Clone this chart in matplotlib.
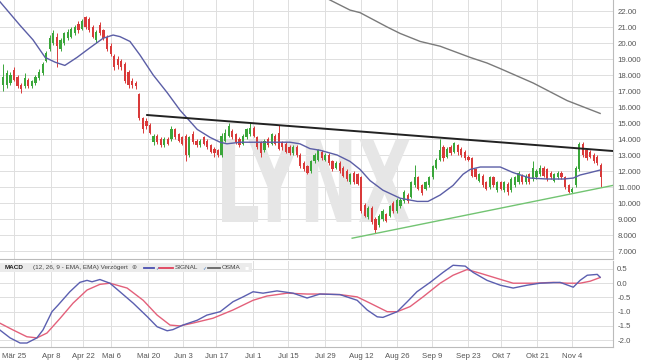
import numpy as np
import matplotlib
matplotlib.use("Agg")
import matplotlib.pyplot as plt
from matplotlib.textpath import TextPath
from matplotlib.patches import PathPatch, Rectangle
from matplotlib.font_manager import FontProperties
from matplotlib.transforms import Affine2D
from matplotlib.lines import Line2D

plt.rcParams['font.family'] = ['Liberation Sans', 'DejaVu Sans']

# ---------------- data ----------------
opens = [17.4, 17.4, 17.5, 18.3, 17.9, 17.4, 17.3, 17.7, 17.3, 17.5,
         17.8, 18.1, 18.9, 19.6, 20.0, 20.4, 19.6, 20.0, 20.3, 20.4,
         20.6, 21.2, 20.9, 21.6, 21.5, 21.0, 20.2, 21.1, 20.8, 20.4,
         19.8, 19.2, 19.0, 18.9, 18.7, 18.2, 17.6, 17.5, 16.8, 15.3,
         15.1, 14.9, 13.8, 14.2, 14.0, 13.6, 14.0, 14.0, 14.6, 14.3,
         14.1, 14.2, 13.0, 14.3, 13.9, 13.6, 14.1, 13.9, 13.6, 13.4,
         13.3, 13.0, 13.9, 14.2, 14.5, 14.3, 14.0, 13.7, 14.1, 14.3,
         14.7, 14.1, 13.8, 13.3, 14.0, 13.7, 14.2, 14.4, 13.8, 13.7,
         13.5, 13.1, 13.5, 13.0, 12.5, 12.3, 12.0, 12.6, 12.7, 13.2,
         12.7, 13.0, 12.6, 12.2, 12.5, 12.2, 12.0, 11.3, 11.9, 11.8,
         11.6, 9.9, 9.1, 9.7, 9.0, 8.6, 9.0, 9.3, 9.2, 10.0,
         9.5, 9.8, 10.1, 10.5, 10.4, 11.1, 11.6, 11.1, 10.9, 11.1,
         11.6, 12.2, 12.7, 13.5, 12.9, 13.5, 13.2, 13.6, 13.4, 13.2,
         12.9, 12.8, 12.1, 11.4, 11.7, 11.3, 11.0, 11.6, 10.8, 11.3,
         10.8, 11.2, 10.8, 11.1, 11.3, 11.7, 11.3, 11.8, 11.5, 11.6,
         11.8, 12.2, 12.1, 11.9, 11.4, 11.6, 11.9, 11.6, 11.1, 10.7,
         11.1, 12.1, 13.7, 13.3, 13.2, 13.0, 12.9, 12.4]
closes = [17.9, 18.1, 18.0, 17.7, 17.3, 17.1, 17.8, 17.3, 17.6, 17.9,
          18.2, 18.7, 19.4, 20.3, 20.6, 19.8, 20.2, 20.6, 20.7, 20.9,
          21.0, 20.8, 21.4, 21.0, 20.8, 20.4, 20.7, 20.6, 20.3, 19.6,
          19.3, 18.5, 18.6, 18.5, 17.6, 17.4, 17.4, 17.3, 15.3, 14.6,
          14.8, 14.4, 14.2, 13.8, 13.6, 14.0, 13.7, 14.6, 14.1, 13.9,
          13.7, 13.0, 14.1, 13.8, 13.6, 13.9, 13.7, 13.5, 13.2, 13.1,
          13.0, 14.2, 14.4, 14.8, 14.1, 13.8, 13.6, 14.2, 14.6, 14.7,
          14.2, 13.5, 13.1, 13.9, 13.6, 14.3, 13.7, 13.4, 13.5, 13.2,
          13.1, 13.5, 13.0, 12.3, 12.1, 11.9, 12.6, 13.0, 13.3, 12.8,
          13.0, 12.5, 12.1, 12.5, 12.0, 11.7, 11.5, 11.8, 11.3, 11.2,
          9.5, 9.2, 9.7, 8.8, 8.3, 9.2, 9.5, 8.9, 9.8, 9.5,
          10.2, 10.2, 10.7, 10.1, 11.3, 11.6, 10.9, 10.6, 11.3, 11.6,
          12.3, 12.7, 13.3, 12.8, 13.4, 13.1, 13.75, 13.2, 13.0, 12.8,
          12.7, 11.7, 11.6, 11.8, 11.1, 10.9, 11.6, 11.1, 11.3, 10.9,
          11.3, 10.7, 11.5, 11.6, 11.9, 11.3, 11.7, 11.3, 12.2, 12.0,
          12.2, 11.7, 11.5, 11.6, 11.8, 11.9, 11.6, 11.0, 10.7, 10.9,
          12.2, 13.7, 13.0, 12.8, 12.9, 12.6, 12.5, 11.6]
highs = [18.7, 18.3, 18.2, 18.5, 18.0, 17.5, 18.1, 17.8, 17.7, 18.0,
         18.4, 18.8, 19.5, 20.5, 20.8, 20.6, 20.3, 20.7, 20.9, 21.0,
         21.1, 21.4, 21.5, 21.7, 21.6, 21.1, 20.8, 21.3, 20.9, 20.5,
         20.0, 19.3, 19.2, 19.0, 18.8, 18.3, 17.8, 17.6, 16.9, 15.4,
         15.3, 15.0, 14.3, 14.3, 14.1, 14.1, 14.1, 14.8, 14.7, 14.4,
         14.2, 14.3, 14.2, 14.5, 14.0, 14.0, 14.2, 14.0, 13.7, 13.5,
         13.4, 14.4, 14.6, 15.0, 14.6, 14.4, 14.1, 14.3, 14.7, 15.0,
         14.8, 14.2, 13.9, 14.0, 14.1, 14.4, 14.3, 14.9, 13.9, 13.8,
         13.6, 13.6, 13.6, 13.1, 12.6, 12.4, 12.7, 13.1, 13.4, 13.3,
         13.1, 13.1, 12.7, 12.6, 12.6, 12.3, 12.1, 11.9, 12.0, 11.9,
         11.7, 10.0, 9.8, 9.8, 9.1, 9.3, 9.6, 9.4, 9.9, 10.1,
         10.3, 10.3, 10.8, 10.6, 11.4, 12.4, 11.7, 11.2, 11.4, 11.7,
         12.4, 12.8, 14.0, 13.6, 13.5, 13.6, 13.8, 13.7, 13.5, 13.3,
         13.0, 12.9, 12.2, 11.9, 11.8, 11.4, 11.7, 11.7, 11.4, 11.4,
         11.4, 11.3, 11.6, 11.7, 12.0, 11.8, 11.8, 11.9, 12.6, 12.1,
         12.4, 12.3, 12.2, 12.0, 11.9, 12.0, 12.0, 11.7, 11.2, 11.0,
         12.3, 13.8, 13.8, 13.4, 13.3, 13.1, 13.0, 12.5]
lows = [17.0, 17.2, 17.4, 17.6, 17.2, 16.9, 17.2, 17.2, 17.2, 17.4,
        17.7, 18.0, 18.8, 19.5, 19.9, 18.5, 19.5, 19.9, 20.2, 20.3,
        20.5, 20.6, 20.8, 20.9, 20.7, 20.3, 20.0, 20.5, 20.2, 19.5,
        19.2, 18.3, 18.4, 18.3, 17.5, 17.2, 17.2, 17.1, 15.2, 14.4,
        14.6, 14.3, 13.6, 13.7, 13.5, 13.5, 13.6, 13.9, 14.0, 13.8,
        13.6, 12.6, 12.9, 13.7, 13.5, 13.5, 13.6, 13.4, 13.1, 12.9,
        12.9, 12.9, 13.8, 14.1, 14.0, 13.7, 13.5, 13.6, 14.0, 14.2,
        14.1, 13.4, 12.9, 13.2, 13.5, 13.6, 13.6, 13.3, 13.3, 13.1,
        13.0, 13.0, 12.9, 12.2, 12.0, 11.8, 11.9, 12.5, 12.6, 12.7,
        12.6, 12.4, 12.0, 12.1, 11.9, 11.6, 11.4, 11.2, 11.2, 11.1,
        9.4, 9.1, 9.0, 8.7, 8.1, 8.5, 8.9, 8.8, 9.1, 9.4,
        9.4, 9.7, 10.0, 10.0, 10.3, 11.0, 10.8, 10.5, 10.8, 11.0,
        11.5, 12.1, 12.6, 12.6, 12.8, 13.0, 13.1, 13.0, 12.9, 12.7,
        12.6, 11.6, 11.5, 11.3, 11.0, 10.8, 10.9, 11.0, 10.7, 10.8,
        10.7, 10.5, 10.7, 11.0, 11.2, 11.2, 11.2, 11.2, 11.4, 11.5,
        11.7, 11.6, 11.4, 11.5, 11.3, 11.5, 11.5, 10.9, 10.6, 10.6,
        11.0, 12.0, 12.9, 12.7, 12.8, 12.5, 12.4, 11.0]

# moving average (blue) knots: trading-day index, price
ma_idx = [-1, 4.7, 8.3, 11.7, 14.5, 17.2, 20.6, 24.2, 27.9, 30.7, 32.6, 35.4,
          38.2, 41.9, 45.8, 49.4, 54.2, 57.8, 60.6, 62.5, 66.2, 80.1, 82.9,
          85.7, 88.5, 93.3, 96.9, 99.7, 102.5, 106.1, 110.9, 115.7, 118.7,
          122.1, 125.7, 128.5, 130.5, 133.3, 138.9, 142.5, 147.2, 152.0,
          156.5, 159.3, 161.2, 164.0, 166.8]
ma_val = [22.6, 21.1, 20.2, 19.1, 18.8, 18.6, 19.1, 19.7, 20.3, 20.5, 20.4, 20.1,
          19.25, 18.0, 16.9, 15.8, 14.6, 14.1, 13.8, 13.7, 13.8, 13.8, 13.7,
          13.4, 13.3, 13.0, 12.6, 12.1, 11.4, 10.8, 10.3, 10.1, 10.1,
          10.5, 11.1, 11.8, 12.1, 12.25, 12.25, 11.9, 11.56, 11.5,
          11.5, 11.56, 11.75, 11.9, 12.06]
# long moving average (grey) knots
ma200_idx = [89.5, 91.3, 96.9, 99.7, 107.3, 110.9, 116.5, 122.1, 130.5, 135.2,
             138.9, 148.1, 157.6, 166.8]
ma200_val = [22.9, 22.69, 22.06, 21.9, 21.0, 20.6, 20.1, 19.8, 19.1, 18.75,
             18.4, 17.5, 16.4, 15.6]
# trend lines
res_idx = [40.2, 170.4]
res_val = [15.5, 13.25]
sup_idx = [97.5, 170.4]
sup_val = [7.8, 11.1]

# MACD
macd_idx = [-1, 1.9, 4.7, 6.6, 9.4, 11.1, 13.6, 15.3, 18.6, 21.4, 23.4, 24.8,
            27.0, 29.8, 32.6, 36.3, 40.2, 43.0, 45.8, 47.4, 50.2, 54.2, 56.9,
            60.6, 64.2, 67.0, 69.8, 72.6, 76.5, 81.0, 84.9, 88.5, 94.1, 98.9,
            101.7, 104.5, 106.1, 110.1, 112.9, 115.6, 119.3, 122.9, 125.7,
            129.1, 131.3, 135.2, 138.9, 142.5, 146.4, 150.0, 155.6, 159.3,
            161.2, 163.2, 166.0, 166.8]
macd_val = [-1.64, -1.92, -2.1, -2.1, -1.92, -1.64, -1.0, -0.77, -0.3, 0.03, 0.1,
            0.05, 0.13, 0.0, -0.3, -0.7, -1.17, -1.53, -1.67, -1.63, -1.47, -1.3,
            -1.12, -1.0, -0.65, -0.48, -0.3, -0.35, -0.27, -0.35, -0.52, -0.38,
            -0.4, -0.6, -0.94, -1.18, -1.2, -1.0, -0.65, -0.3, 0.03, 0.38, 0.63,
            0.6, 0.38, 0.1, -0.07, -0.17, -0.07, 0.0, 0.03, -0.14, 0.1, 0.28,
            0.31, 0.21]
sig_idx = [-1, 2.7, 6.6, 9.4, 12.2, 15.9, 19.5, 23.4, 27.0, 29.8, 34.6, 39.1,
           43.0, 46.6, 49.4, 53.0, 58.6, 64.2, 69.8, 73.7, 79.3, 84.9, 88.5,
           94.1, 98.9, 102.5, 107.3, 110.1, 113.7, 117.3, 122.1, 125.7, 129.6,
           133.3, 138.0, 142.5, 148.1, 153.7, 157.6, 161.2, 164.0, 166.8]
sig_val = [-1.4, -1.64, -1.88, -1.92, -1.75, -1.23, -0.7, -0.24, -0.04, 0.0,
           -0.17, -0.6, -1.12, -1.47, -1.5, -1.4, -1.23, -0.94, -0.6, -0.45,
           -0.35, -0.38, -0.38, -0.4, -0.48, -0.7, -1.0, -1.0, -0.82, -0.48,
           0.0, 0.28, 0.48, 0.35, 0.17, 0.0, 0.0, 0.03, 0.0, 0.0, 0.07, 0.2]

date_labels = ["Mär 25", "Apr 8", "Apr 22", "Mai 6", "Mai 20", "Jun 3", "Jun 17",
               "Jul 1", "Jul 15", "Jul 29", "Aug 12", "Aug 26", "Sep 9", "Sep 23",
               "Okt 7", "Okt 21", "Nov 4"]
date_idx = [3.0, 13.3, 22.3, 30.1, 40.5, 50.2, 59.5, 69.8, 79.6, 90.0, 100.0,
            110.1, 119.8, 129.9, 139.1, 149.2, 159.0]
price_ticks = [22, 21, 20, 19, 18, 17, 16, 15, 14, 13, 12, 11, 10, 9, 8, 7]
price_labels = ["22.00", "21.00", "20.00", "19.000", "18.000", "17.000", "16.000",
                "15.000", "14.000", "13.000", "12.000", "11.000", "10.000",
                "9.000", "8.000", "7.000"]
macd_ticks = [0.5, 0.0, -0.5, -1.0, -1.5, -2.0]
macd_labels = ["0.5", "0.0", "-0.5", "-1.0", "-1.5", "-2.0"]

# ---------------- figure ----------------
W, H = 645, 363
fig = plt.figure(figsize=(W / 100, H / 100), dpi=100)
fig.patch.set_facecolor('white')

right = 613 / W
ax = fig.add_axes([0, 1 - 259 / H, right, 259 / H])
ax2 = fig.add_axes([0, 1 - 347 / H, right, (347 - 261) / H])

grid_c = '#dedede'
lab_c = '#555555'
XL = (-0.92, 170.4)

for a in (ax, ax2):
    a.set_facecolor('white')
    a.set_xlim(*XL)
    for s in ('top', 'left'):
        a.spines[s].set_visible(False)
    for s in ('right', 'bottom'):
        a.spines[s].set_color('#bbbbbb')
        a.spines[s].set_linewidth(0.8)
    a.set_xticks(date_idx)
    a.grid(True, color=grid_c, linewidth=0.7)
    a.set_axisbelow(True)
    a.yaxis.tick_right()
    a.tick_params(axis='both', length=0, colors=lab_c, labelsize=5.6, pad=3)

ax.set_xticklabels([])
ax2.set_xticklabels(date_labels)
ax2.tick_params(axis='x', pad=4)

ax.set_ylim(6.5, 22.69)
ax.set_yticks(price_ticks)
ax.set_yticklabels(price_labels)
for t in ax.get_yticklabels():
    t.set_horizontalalignment('left')

ax2.set_ylim(-2.24, 0.78)
ax2.set_yticks(macd_ticks)
ax2.set_yticklabels(macd_labels)

# watermark
tp = TextPath((0, 0), "LYNX", size=100,
              prop=FontProperties(family="DejaVu Sans", weight="bold"))
bb = tp.get_extents()
x0p, x1p, ytop, ybot = 222, 410, 140, 222
sx = (x1p - x0p) / bb.width
sy = (ybot - ytop) / bb.height
tr = Affine2D().translate(-bb.x0, -bb.y0).scale(sx, sy).translate(x0p, H - ybot)
wm = PathPatch(tp, transform=tr, facecolor='#e6e6e6', edgecolor='none', zorder=0.8)
ax.add_artist(wm)

# candles
idx = np.arange(len(opens))
o = np.array(opens); c = np.array(closes)
hi = np.array(highs); lo = np.array(lows)
up = c >= o
green = '#3aa63a'
red = '#d93a3a'
cols = np.where(up, green, red)
ax.vlines(idx, lo, hi, colors=cols, linewidth=0.7, zorder=3)
body_bot = np.minimum(o, c)
body_h = np.maximum(np.abs(c - o), 0.05)
ax.bar(idx, body_h, bottom=body_bot, width=0.62, color=cols, linewidth=0, zorder=4)

ax.plot(ma_idx, ma_val, color='#5b5ea6', linewidth=1.0, zorder=5)
ax.plot(ma200_idx, ma200_val, color='#7a7a7a', linewidth=1.0, zorder=5)
ax.plot(res_idx, res_val, color='#222222', linewidth=1.4, zorder=6)
ax.plot(sup_idx, sup_val, color='#72c472', linewidth=1.0, zorder=6)
ax.set_xlim(*XL)
ax.set_ylim(6.5, 22.69)

# MACD panel
ax2.plot(macd_idx, macd_val, color='#5b5fb0', linewidth=1.0, zorder=4)
ax2.plot(sig_idx, sig_val, color='#e3607a', linewidth=1.0, zorder=3)
ax2.set_xlim(*XL)
ax2.set_ylim(-2.24, 0.78)

# legend bar of MACD panel (pixel coordinates)
lx, ly = 0, 1 - 272 / H
fig.patches.append(Rectangle((lx, ly), 252 / W, 9 / H, transform=fig.transFigure,
                             facecolor='#ebebeb', edgecolor='none', zorder=5))
ty = 1 - 267.5 / H
fs = 4.6
fig.text(5 / W, ty, "MACD", fontsize=fs, fontweight='bold', color='#222222',
         va='center', ha='left', zorder=6)
fig.text(33 / W, ty, "(12, 26, 9 - EMA, EMA) Verzögert", fontsize=fs,
         color='#444444', va='center', ha='left', zorder=6)
fig.text(131 / W, ty, "\u2295", fontsize=4.4, color='#666666', va='center',
         ha='left', zorder=6, family=['DejaVu Sans'])
for (a0, a1, col) in [(144, 154, '#4a4fb0'), (159, 173, '#e0405a'), (208, 220, '#666666')]:
    fig.lines.append(Line2D([a0 / W, a1 / W], [ty, ty], transform=fig.transFigure,
                            color=col, linewidth=1.3, zorder=6))
for xx in (155.5, 202):
    fig.text(xx / W, ty, "\u2713", fontsize=3.6, color='#4a7fbf', va='center',
             ha='left', zorder=6, family=['DejaVu Sans'])
fig.text(175 / W, ty, "SIGNAL", fontsize=fs, color='#444444', va='center',
         ha='left', zorder=6)
fig.text(222 / W, ty, "OSMA", fontsize=fs, color='#444444', va='center',
         ha='left', zorder=6)
fig.text(244 / W, ty, "\u25aa", fontsize=4.5, color='#ffffff', va='center',
         ha='left', zorder=6, family=['DejaVu Sans'])

fig.savefig("out.png", dpi=100, facecolor='white')
